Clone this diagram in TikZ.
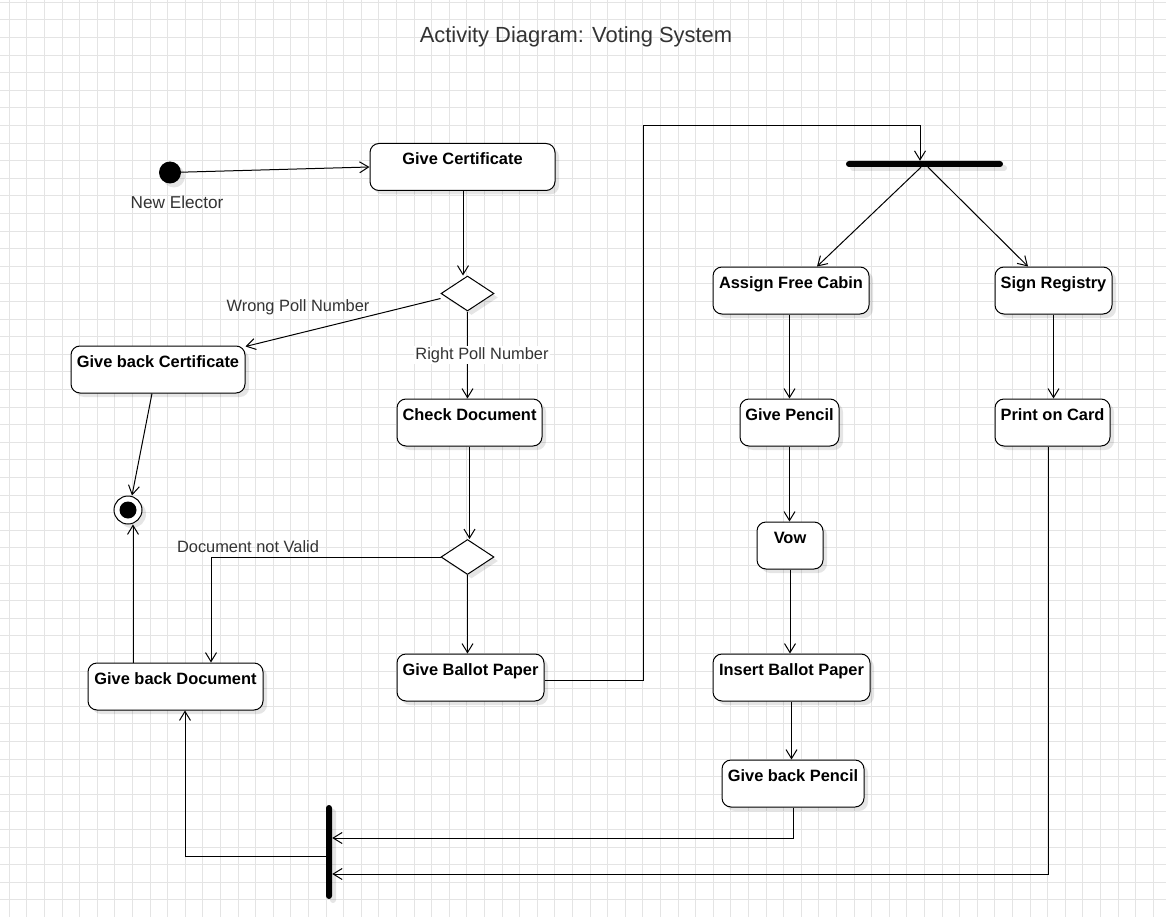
\documentclass[tikz,border=0pt]{standalone}
\usepackage{fontspec}
\setmainfont{Liberation Sans}
\usetikzlibrary{arrows.meta,shapes.geometric,shadows}
\begin{document}
\begin{tikzpicture}[x=1pt,y=-1pt,
  gridline/.style={draw={rgb,255:red,228;green,228;blue,228}, line width=1pt},
  shadowed/.style={drop shadow={shadow xshift=4pt, shadow yshift=-4pt, opacity=0.1, fill=black}},
  act/.style={draw=black, line width=1pt, fill=white, rounded corners=9pt, inner sep=0pt,
    minimum height=47pt, text height=21.5pt, text depth=25.5pt,
    font=\fontsize{16.4}{19}\selectfont\bfseries, shadowed},
  dec/.style={diamond, draw=black, line width=1pt, fill=white, minimum width=53pt,
    minimum height=35pt, inner sep=0pt, shadowed},
  syncbar/.style={fill=black, rounded corners=3pt, inner sep=0pt, shadowed},
  arr/.style={draw=black, line width=1pt, -{Straight Barb[length=9pt,width=11pt]}},
  lbl/.style={font=\fontsize{16.4}{19}\selectfont, text={rgb,255:red,51;green,51;blue,51}, inner sep=1pt},
  ttl/.style={font=\fontsize{21.9}{26}\selectfont, text={rgb,255:red,51;green,51;blue,51}, inner sep=0pt}
]
\fill[white] (0,0) rectangle (1166,917);
\useasboundingbox (0,0) rectangle (1166,917);
\foreach \i in {0,...,66} \draw[gridline] ({9.3+17.6*\i},0) -- ++(0,917);
\foreach \j in {0,...,52} \draw[gridline] (0,{2.3+17.6*\j}) -- ++(1166,0);

\node[ttl] (title) at (576,36.5) {Activity Diagram: Voting System};

% start and end
\node[circle, fill=black, minimum size=22pt, inner sep=0pt, shadowed] (start) at (170,172.5) {};
\node[lbl, font=\fontsize{17.2}{20}\selectfont] (startlbl) at (177,202) {New Elector};
\node[circle, draw=black, line width=1pt, fill=white, minimum size=28pt, inner sep=0pt, shadowed] (final) at (128,510) {};
\node[circle, fill=black, minimum size=17pt, inner sep=0pt] (finaldot) at (final) {};

% actions
\node[act, minimum width=185pt] (gc) at (462.5,167) {Give Certificate};
\node[act, minimum width=174pt] (gbc) at (158,369.5) {Give back Certificate};
\node[act, minimum width=145pt] (cd) at (469.5,422.5) {Check Document};
\node[act, minimum width=147pt] (gbp) at (470.5,677.5) {Give Ballot Paper};
\node[act, minimum width=175pt] (gbd) at (175.5,686.5) {Give back Document};
\node[act, minimum width=156pt] (afc) at (791,290.5) {Assign Free Cabin};
\node[act, minimum width=117pt] (sr) at (1053.5,290.5) {Sign Registry};
\node[act, minimum width=99pt] (gp) at (789.5,422.5) {Give Pencil};
\node[act, minimum width=115pt] (poc) at (1052.5,422.5) {Print on Card};
\node[act, minimum width=66pt] (vow) at (790,545.5) {Vow};
\node[act, minimum width=157pt] (ibp) at (791.5,677.5) {Insert Ballot Paper};
\node[act, minimum width=142pt] (gbpen) at (793,783.5) {Give back Pencil};

% decisions
\node[dec] (d1) at (467.5,293.5) {};
\node[dec] (d2) at (467.5,557) {};

% fork / join bars
\node[syncbar, minimum width=157pt, minimum height=6pt] (fork) at (924.5,164) {};
\node[syncbar, minimum width=6pt, minimum height=94pt] (join) at (329,852) {};

\coordinate (up) at (643,126);

% connectors
\draw[arr] (start) -- (gc.west);
\draw[arr] ([xshift=0.5pt]gc.south) -- ([xshift=0.5pt]gc.south |- d1.north);
\draw[arr] ([yshift=-5pt]d1.west) -- ([yshift=-1pt]gbc.north east);
\node[lbl] (wpn) at (298,307) {Wrong Poll Number};
\draw[arr] (d1.south) -- (d1.south |- cd.north);
\node[lbl, fill=white] (rpn) at (482,355) {Right Poll Number};
\draw[arr] ([xshift=-6pt]gbc.south) -- ([xshift=4pt]final.north);
\draw[arr] ([xshift=-42.5pt]gbd.north) -- ([xshift=-42.5pt]gbd.north |- final.south);
\draw[arr] (cd.south) -- (cd.south |- d2.north);
\draw[arr] (d2.west) -| ([xshift=35.5pt]gbd.north);
\node[lbl] (dnv) at (248,547) {Document not Valid};
\draw[arr] (d2.south) -- (d2.south |- gbp.north);
\draw[arr] ([yshift=-2.5pt]gbp.east) -| (up) -| ([xshift=-4.5pt]fork.north);
\draw[arr] ([xshift=-3.5pt]fork.south) -- ([xshift=26pt]afc.north);
\draw[arr] ([xshift=3.5pt]fork.south) -- ([xshift=-25.5pt]sr.north);
\draw[arr] (gp.north |- afc.south) -- (gp.north);
\draw[arr] (sr.south) -- (sr.south |- poc.north);
\draw[arr] (gp.south) -- (gp.south |- vow.north);
\draw[arr] (vow.south) -- (vow.south |- ibp.north);
\draw[arr] (ibp.south) -- (ibp.south |- gbpen.north);
\draw[arr] (gbpen.south) |- ([yshift=14pt]join.east);
\draw[arr] ([xshift=-4.5pt]poc.south) |- ([yshift=-22pt]join.east);
\draw[arr] ([yshift=-4pt]join.west) -| ([xshift=9.5pt]gbd.south);
\end{tikzpicture}
\end{document}
